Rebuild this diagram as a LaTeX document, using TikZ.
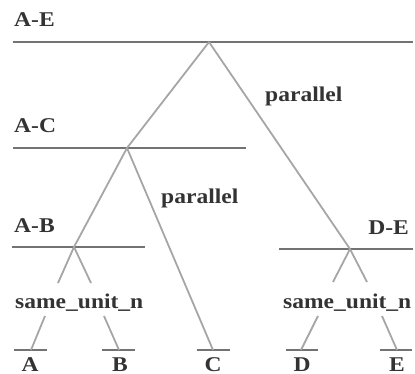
\documentclass[tikz,border=0pt]{standalone}
\usepackage{fontspec}
\setmainfont{Liberation Serif}
\begin{document}
\begin{tikzpicture}[x=1pt,y=-1pt,
  lbl/.style={inner sep=0pt,text=black!80,font=\fontsize{21}{21}\selectfont\bfseries,xscale=1.12},
  hline/.style={draw=black!55,line width=1.3pt},
  edge/.style={draw=black!35,line width=1.8pt}]
\useasboundingbox (0,0) rectangle (415,374);
% horizontal bars
\coordinate (ae) at (209,42);
\coordinate (ac) at (127,148);
\coordinate (ab) at (74,247);
\coordinate (de) at (350,249);
\draw[hline] (13,42) -- (413,42);
\draw[hline] (13,148) -- (246,148);
\draw[hline] (12,247) -- (145,247);
\draw[hline] (279,249) -- (413,249);
% leaf bars
\coordinate (la) at (31,350);
\coordinate (lb) at (119,350);
\coordinate (lc) at (213,350);
\coordinate (ld) at (301,350);
\coordinate (le) at (397,350);
\draw[hline] (14,350) -- (47,350);
\draw[hline] (102,350) -- (135,350);
\draw[hline] (197,350) -- (230,350);
\draw[hline] (286,350) -- (318,350);
\draw[hline] (380,350) -- (412,350);
% labels
\node[lbl,anchor=base west,transform shape] (tAE) at (14,27) {A-E};
\node[lbl,anchor=base west,transform shape] (tAC) at (14,133) {A-C};
\node[lbl,anchor=base west,transform shape] (tAB) at (14,233) {A-B};
\node[lbl,anchor=base east,transform shape] (tDE) at (409,235) {D-E};
\node[lbl,anchor=base west,transform shape] (p1) at (265,102) {parallel};
\node[lbl,anchor=base west,transform shape] (p2) at (161,204) {parallel};
\node[lbl,anchor=base west,transform shape] (s1) at (15,308) {same\_unit\_n};
\node[lbl,anchor=base west,transform shape] (s2) at (283,308) {same\_unit\_n};
\node[lbl,anchor=base,transform shape] (A) at (30,371) {A};
\node[lbl,anchor=base,transform shape] (B) at (120,371) {B};
\node[lbl,anchor=base,transform shape] (C) at (213,371) {C};
\node[lbl,anchor=base,transform shape] (D) at (302,371) {D};
\node[lbl,anchor=base,transform shape] (E) at (397,371) {E};
% edges
\draw[edge] (ae) -- (ac);
\draw[edge] (ae) -- (de);
\draw[edge] (ac) -- (ab);
\draw[edge] (ac) -- (lc);
\draw[edge] (ab) -- (58,283);
\draw[edge] (ab) -- (91,283);
\draw[edge] (45,316) -- (la);
\draw[edge] (104,316) -- (lb);
\draw[edge] (de) -- (333,282);
\draw[edge] (de) -- (367,282);
\draw[edge] (318,316) -- (ld);
\draw[edge] (382,316) -- (le);
\end{tikzpicture}
\end{document}
